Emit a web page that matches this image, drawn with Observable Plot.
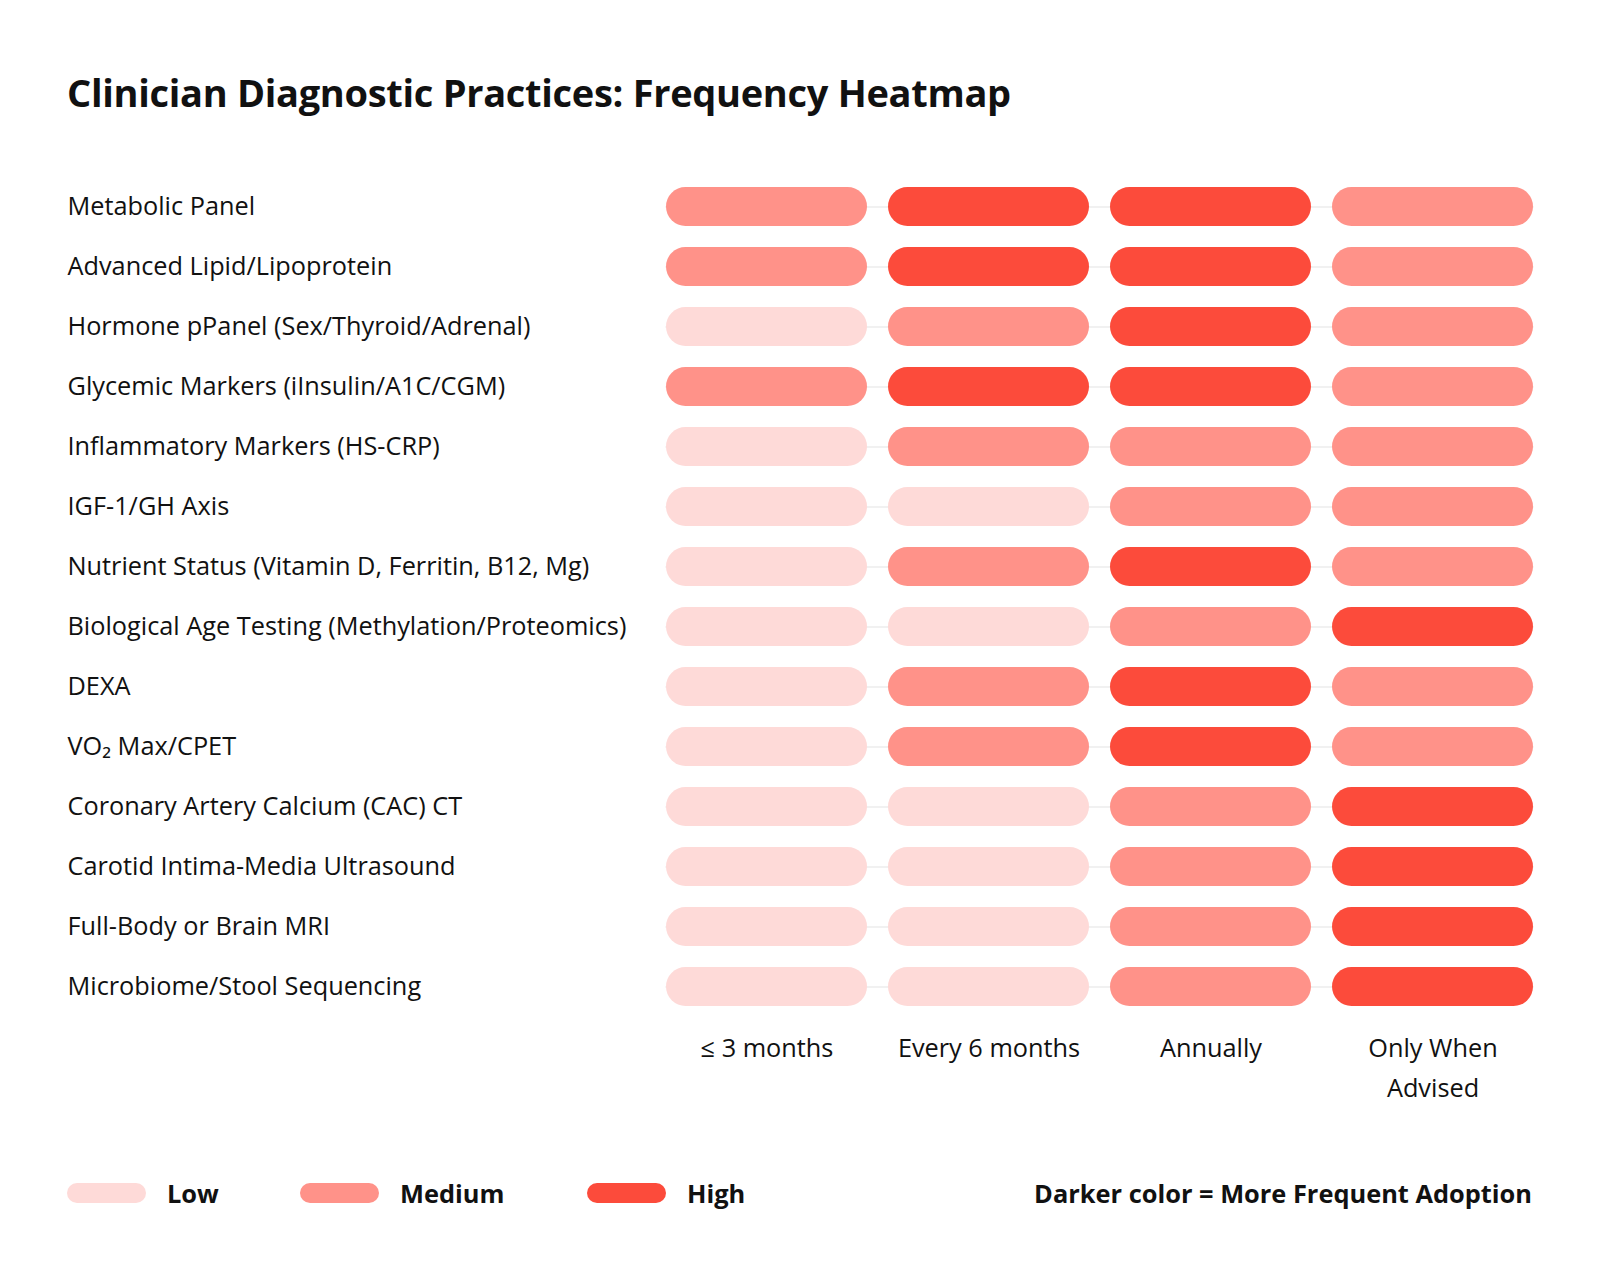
<!DOCTYPE html>
<html>
<head>
<meta charset="utf-8">
<script src="https://cdn.jsdelivr.net/npm/d3@7"></script>
<script src="https://cdn.jsdelivr.net/npm/@observablehq/plot@0.6"></script>
<style>
  html, body { margin: 0; padding: 0; background: #fff; overflow: hidden; }
  body { position: relative; width: 1600px; height: 1280px; font-family: "Open Sans", sans-serif; color: #111; }
  #title { position: relative; height: 150px; }
  #title h1 { position: absolute; left: 67px; top: 73px; margin: 0; font-size: 38px; font-weight: 700; letter-spacing: -0.3px; line-height: 1; }
  #chart svg { display: block; }
  #legend { position: absolute; left: 0; top: 1133px; width: 1600px; height: 120px; }
  .sw { position: absolute; top: 50px; width: 79px; height: 20px; border-radius: 10px; }
  .lt { position: absolute; top: 42px; font-size: 25.4px; font-weight: 700; line-height: 36px; }
  #note { position: absolute; right: 68px; top: 42px; font-size: 25.4px; font-weight: 700; line-height: 36px; }
</style>
</head>
<body>
<div id="title"><h1>Clinician Diagnostic Practices: Frequency Heatmap</h1></div>
<div id="chart"></div>
<div id="legend"></div>
<script>
const practices = [
  "Metabolic Panel",
  "Advanced Lipid/Lipoprotein",
  "Hormone pPanel (Sex/Thyroid/Adrenal)",
  "Glycemic Markers (iInsulin/A1C/CGM)",
  "Inflammatory Markers (HS-CRP)",
  "IGF-1/GH Axis",
  "Nutrient Status (Vitamin D, Ferritin, B12, Mg)",
  "Biological Age Testing (Methylation/Proteomics)",
  "DEXA",
  "VO\u2082 Max/CPET",
  "Coronary Artery Calcium (CAC) CT",
  "Carotid Intima-Media Ultrasound",
  "Full-Body or Brain MRI",
  "Microbiome/Stool Sequencing"
];
const frequencies = ["\u2264 3 months", "Every 6 months", "Annually", "Only When Advised"];
const frequencyLabels = ["\u2264 3 months", "Every 6 months", "Annually", "Only When\nAdvised"];
const levels = ["Low", "Medium", "High"];
const levelColors = ["#fedad8", "#ff9289", "#fc4b3b"];
// adoption level per practice, per frequency column
const adoption = [
  ["Medium", "High", "High", "Medium"],
  ["Medium", "High", "High", "Medium"],
  ["Low", "Medium", "High", "Medium"],
  ["Medium", "High", "High", "Medium"],
  ["Low", "Medium", "Medium", "Medium"],
  ["Low", "Low", "Medium", "Medium"],
  ["Low", "Medium", "High", "Medium"],
  ["Low", "Low", "Medium", "High"],
  ["Low", "Medium", "High", "Medium"],
  ["Low", "Medium", "High", "Medium"],
  ["Low", "Low", "Medium", "High"],
  ["Low", "Low", "Medium", "High"],
  ["Low", "Low", "Medium", "High"],
  ["Low", "Low", "Medium", "High"]
];
const noteText = "Darker color = More Frequent Adoption";

const cells = [];
practices.forEach((p, i) => frequencies.forEach((f, j) => cells.push({practice: p, frequency: f, level: adoption[i][j]})));

const chart = Plot.plot({
  width: 1600,
  height: 967,
  marginLeft: 665.5,
  marginRight: 66.5,
  marginTop: 26.1,
  marginBottom: 100.2,
  style: {fontFamily: "'Open Sans', sans-serif", color: "#111", background: "#fff"},
  x: {domain: frequencies, paddingInner: 0.0967, paddingOuter: 0, label: null},
  y: {domain: practices, paddingInner: 0.3505, paddingOuter: 0.175, label: null},
  color: {domain: levels, range: levelColors},
  marks: [
    Plot.gridY({stroke: "#ececec", strokeOpacity: 1, strokeWidth: 1.5}),
    Plot.cell(cells, {x: "frequency", y: "practice", fill: "level", rx: 19.5, inset: 0}),
    Plot.axisY({tickSize: 0, tickPadding: 0, textAnchor: "start", dx: -598.5, fontSize: 25.3, fill: "#111", label: null}),
    Plot.axisX({anchor: "bottom", tickSize: 0, tickPadding: 12, fontSize: 25.3, lineHeight: 1.57, fill: "#111", label: null,
      tickFormat: d => frequencyLabels[frequencies.indexOf(d)]})
  ]
});
document.getElementById("chart").appendChild(chart);

const legend = document.getElementById("legend");
const swX = [67, 300, 587];
const txX = [167, 400, 687];
levels.forEach((l, i) => {
  const s = document.createElement("div");
  s.className = "sw"; s.style.left = swX[i] + "px"; s.style.background = levelColors[i];
  legend.appendChild(s);
  const t = document.createElement("div");
  t.className = "lt"; t.style.left = txX[i] + "px"; t.textContent = l;
  legend.appendChild(t);
});
const note = document.createElement("div");
note.id = "note"; note.textContent = noteText;
legend.appendChild(note);
</script>
</body>
</html>
